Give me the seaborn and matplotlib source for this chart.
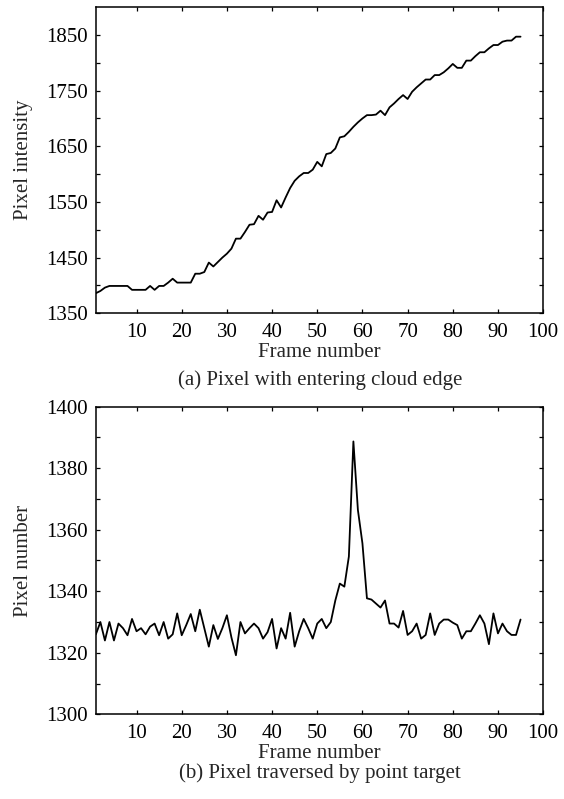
import numpy as np
import pandas as pd
import seaborn as sns
import matplotlib.pyplot as plt


# frame numbers 1..95
frames = list(range(1, 96))

# (a) pixel with entering cloud edge
intensity = [
    1386, 1390, 1396, 1399, 1399, 1399, 1399, 1399, 1392, 1392,
    1392, 1392, 1399, 1392, 1399, 1399, 1405, 1412, 1405, 1405,
    1405, 1405, 1421, 1421, 1424, 1441, 1434, 1442, 1450, 1457,
    1466, 1484, 1484, 1496, 1509, 1510, 1525, 1518, 1531, 1532,
    1553, 1540, 1558, 1575, 1588, 1596, 1602, 1602, 1608, 1622,
    1614, 1636, 1638, 1646, 1666, 1668, 1676, 1685, 1693, 1700,
    1706, 1706, 1707, 1714, 1706, 1720, 1727, 1735, 1742, 1735,
    1748, 1756, 1763, 1770, 1770, 1778, 1778, 1783, 1790, 1798,
    1791, 1791, 1804, 1804, 1812, 1819, 1819, 1826, 1832, 1832,
    1838, 1840, 1840, 1847, 1847,
]

# (b) pixel traversed by point target
target = [
    1326, 1330, 1324, 1330, 1324, 1329.5, 1328, 1325.7, 1331, 1327,
    1328, 1326, 1328.5, 1329.5, 1325.7, 1330, 1324.6, 1326, 1332.8, 1325.7,
    1329, 1332.6, 1327, 1334, 1328, 1322, 1329, 1324.5, 1328, 1332.2,
    1325, 1319.2, 1330, 1326.3, 1328, 1329.5, 1328, 1324.6, 1326.7, 1331,
    1321.4, 1328, 1324.6, 1333, 1322, 1327, 1331, 1328, 1324.6, 1329.5,
    1331, 1328, 1330, 1337, 1342.5, 1341.5, 1351.3, 1388.7, 1366.4, 1355.6,
    1337.7, 1337.3, 1336, 1334.7, 1337, 1329.5, 1329.5, 1328.2, 1333.6, 1325.8,
    1327, 1329.5, 1324.6, 1325.8, 1332.8, 1325.8, 1329.5, 1330.8, 1330.8, 1329.8,
    1329, 1324.6, 1327, 1327, 1329.5, 1332.2, 1329.5, 1322.8, 1332.8, 1326.3,
    1329.5, 1327, 1325.8, 1325.8, 1330.8,
]

xticks = [10, 20, 30, 40, 50, 60, 70, 80, 90, 100]
yticks_a = [1350, 1450, 1550, 1650, 1750, 1850]
yminor_a = [1400, 1500, 1600, 1700, 1800]
yticks_b = [1300, 1320, 1340, 1360, 1380, 1400]
yminor_b = [1310, 1330, 1350, 1370, 1390]

sns.set_style("ticks")
plt.rcParams['font.family'] = ['Liberation Serif', 'DejaVu Serif']

df = pd.DataFrame({"frame": frames, "intensity": intensity, "target": target})

fig = plt.figure(figsize=(5.64, 7.99), dpi=100)
ax1 = fig.add_axes([0.170, 0.608, 0.793, 0.383])
ax2 = fig.add_axes([0.170, 0.106, 0.793, 0.385])

sns.lineplot(data=df, x="frame", y="intensity", ax=ax1, color="black", linewidth=1.3)
sns.lineplot(data=df, x="frame", y="target", ax=ax2, color="black", linewidth=1.3)


def style_axis(ax, yticks, yminor, ylim, ylabel):
    ax.set_xlim(1, 100)
    ax.set_ylim(*ylim)
    ax.set_xticks(xticks)
    ax.set_yticks(yticks)
    ax.set_yticks(yminor, minor=True)
    ax.tick_params(which="both", direction="in", top=True, right=True,
                   labelsize=15, length=3, width=0.9, colors="black")
    ax.tick_params(axis="x", pad=7)
    ax.tick_params(axis="y", pad=6)
    for s in ax.spines.values():
        s.set_visible(True)
        s.set_linewidth(1.1)
        s.set_color("black")
    ax.set_xlabel("Frame number", fontsize=15, labelpad=1)
    ax.set_ylabel(ylabel, fontsize=15, labelpad=9)


style_axis(ax1, yticks_a, yminor_a, (1350, 1900), "Pixel intensity")
style_axis(ax2, yticks_b, yminor_b, (1300, 1400), "Pixel number")

fig.text(0.567, 0.524, "(a) Pixel with entering cloud edge", ha="center", va="center", fontsize=15)
fig.text(0.567, 0.032, "(b) Pixel traversed by point target", ha="center", va="center", fontsize=15)

fig.savefig("out.png", dpi=100)
